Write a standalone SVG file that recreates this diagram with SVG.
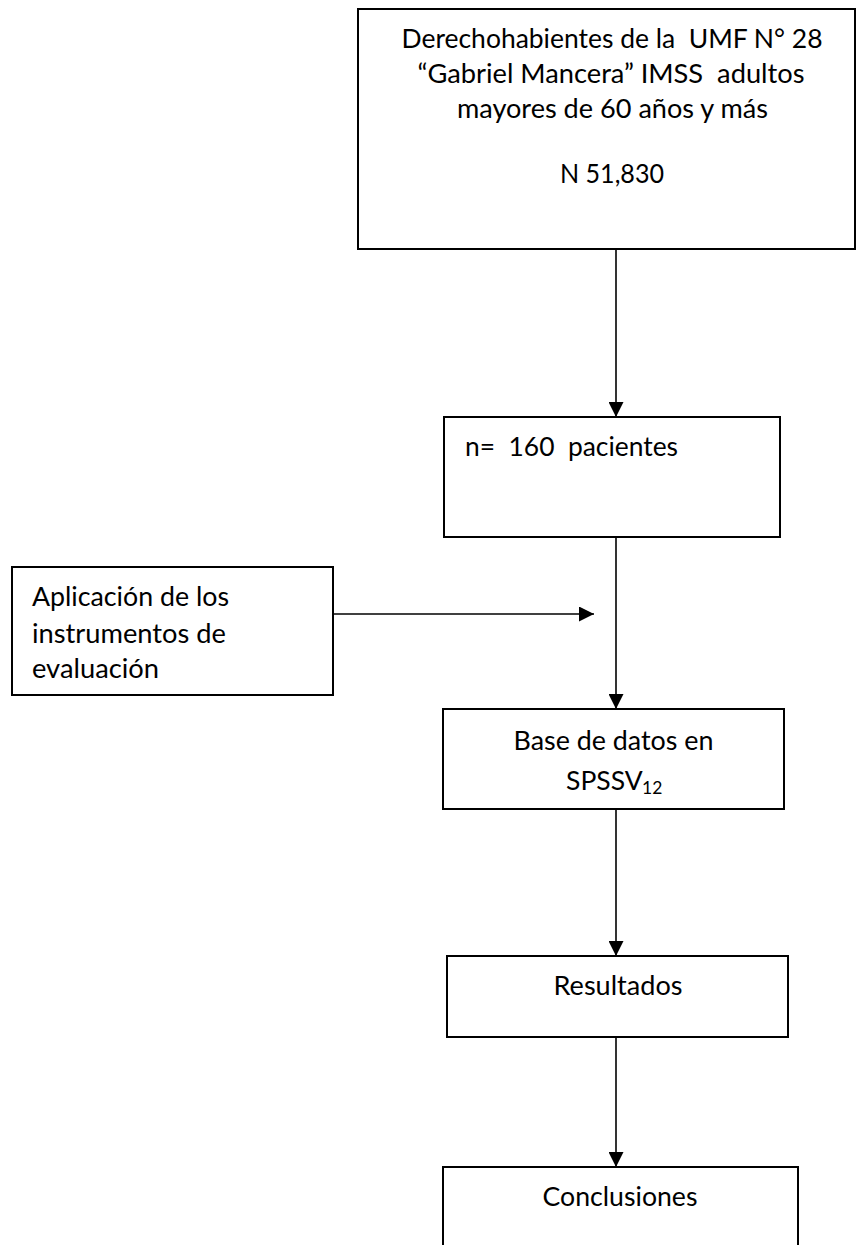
<svg xmlns="http://www.w3.org/2000/svg" width="857" height="1245" viewBox="0 0 857 1245">
<style>
.box{fill:#fff;stroke:#000;stroke-width:2}
.t{font-family:Lato,"Open Sans","Liberation Sans",sans-serif;font-size:26.5px;fill:#000}
.c{text-anchor:middle}
.sub{font-size:17.5px}
.edge{stroke:#000;stroke-width:1.6;fill:none;marker-end:url(#ah)}
</style>
<defs>
<marker id="ah" viewBox="0 0 10 10" refX="10" refY="5" markerUnits="userSpaceOnUse" markerWidth="15" markerHeight="15" orient="auto">
<path d="M0,0 L10,5 L0,10 z" fill="#000"/>
</marker>
</defs>
<rect width="857" height="1245" fill="#fff"/>
<g id="connectors">
<line class="edge" x1="616" y1="249" x2="616" y2="417"/>
<line class="edge" x1="616" y1="537" x2="616" y2="709"/>
<line class="edge" x1="333" y1="614" x2="594" y2="614"/>
<line class="edge" x1="616" y1="809" x2="616" y2="956"/>
<line class="edge" x1="616" y1="1037" x2="616" y2="1167"/>
</g>
<g id="n1">
<rect class="box" x="358" y="9" width="497" height="240"/>
<text class="t c" x="612" y="48" xml:space="preserve" textLength="421" lengthAdjust="spacingAndGlyphs">Derechohabientes de la  UMF N° 28</text>
<text class="t c" x="611" y="83" xml:space="preserve" textLength="387" lengthAdjust="spacingAndGlyphs">“Gabriel Mancera” IMSS  adultos</text>
<text class="t c" x="612.5" y="118" textLength="311" lengthAdjust="spacingAndGlyphs">mayores de 60 años y más</text>
<text class="t c" x="612" y="183" textLength="104" lengthAdjust="spacingAndGlyphs">N 51,830</text>
</g>
<g id="n2">
<rect class="box" x="444" y="417" width="336" height="120"/>
<text class="t" x="465" y="456" xml:space="preserve" textLength="213" lengthAdjust="spacingAndGlyphs">n=  160  pacientes</text>
</g>
<g id="n3">
<rect class="box" x="12" y="567" width="321" height="128"/>
<text class="t" x="32" y="606" textLength="197" lengthAdjust="spacingAndGlyphs">Aplicación de los</text>
<text class="t" x="32" y="643" textLength="194" lengthAdjust="spacingAndGlyphs">instrumentos de</text>
<text class="t" x="32" y="678" textLength="127" lengthAdjust="spacingAndGlyphs">evaluación</text>
</g>
<g id="n4">
<rect class="box" x="443" y="709" width="341" height="100"/>
<text class="t c" x="613.5" y="750" textLength="200" lengthAdjust="spacingAndGlyphs">Base de datos en</text>
<text class="t" x="566" y="790">SPSSV<tspan class="sub" x="642" dy="4">12</tspan></text>
</g>
<g id="n5">
<rect class="box" x="447" y="956" width="341" height="81"/>
<text class="t c" x="618" y="995" textLength="129" lengthAdjust="spacingAndGlyphs">Resultados</text>
</g>
<g id="n6">
<rect class="box" x="443" y="1167" width="355" height="90"/>
<text class="t c" x="620" y="1206" textLength="155" lengthAdjust="spacingAndGlyphs">Conclusiones</text>
</g>
</svg>
